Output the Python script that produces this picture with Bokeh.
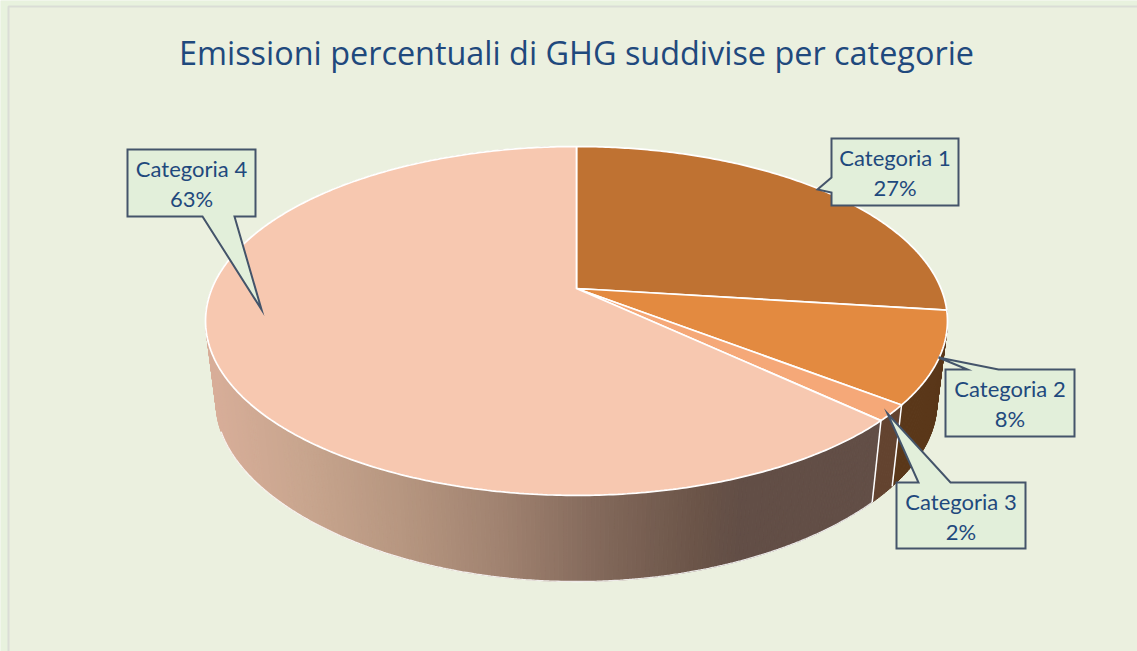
import numpy as np
from bokeh.plotting import figure
from bokeh.embed import file_html
from bokeh.resources import INLINE
from bokeh.core.properties import value
from bokeh.models import Range1d

title_text = "Emissioni percentuali di GHG suddivise per categorie"
categories = ["Categoria 1", "Categoria 2", "Categoria 3", "Categoria 4"]
shares = [27.0, 8.5, 1.5, 63.0]
labels = ["27%", "8%", "2%", "63%"]
top_colors = ["#BF7232", "#E38A40", "#F5A878", "#F7C8B0"]
side_colors = ["#6A3E1A", "#5A3719", "#63432F", None]
side_stops_x = [205, 300, 400, 500, 600, 700, 740, 880]
side_stops_c = [(216, 174, 153), (200, 165, 142), (182, 150, 128), (160, 130, 112),
                (130, 104, 90), (106, 84, 72), (98, 78, 70), (98, 78, 70)]

W, H = 1137, 651
p = figure(width=W, height=H, output_backend="svg", toolbar_location=None,
           x_range=Range1d(0, W), y_range=Range1d(H, 0),
           min_border=0, border_fill_color="#EBF0DF", background_fill_color="#EBF0DF",
           outline_line_color=None)
p.axis.visible = False
p.grid.visible = False

# outer strip and frame of the chart area
p.patch([0, 1137, 1137, 8, 8, 0], [0, 0, 6, 6, 651, 651], fill_color="#E8F2DE", line_color=None)
p.line([8, 8, 1137], [651, 6, 6], line_color="#DADDD6", line_width=2)

K = 0.186
CX = 576.0
def project(theta, plane):
    u, v = np.sin(theta), np.cos(theta)
    if plane == "top":
        w = 1 + K * v
        return CX + 364.5 * u / w, 288.0 - 168.4 * v / w
    w = 1 + K * v
    w2 = 1 + 0.25 * v
    return CX + 354.0 * u / w, 373.0 - 156.0 * v / w2

edges = np.cumsum([0.0] + shares) / 100 * 2 * np.pi

def side_color(x):
    r = [np.interp(x, side_stops_x, [c[i] for c in side_stops_c]) for i in range(3)]
    return "#%02X%02X%02X" % tuple(int(round(v)) for v in r)

for i in (1, 2, 3):
    a0, a1 = edges[i], edges[i + 1]
    n = max(int((a1 - a0) / np.radians(0.6)), 2)
    th = np.linspace(a0, a1, n + 1)
    for j in range(n):
        t = np.array([th[j], th[j + 1]])
        tx, ty = project(t, "top")
        bx, by = project(t[::-1], "bottom")
        xs = list(tx) + list(bx)
        ys = list(ty) + list(by)
        c = side_colors[i] if side_colors[i] else side_color(float(np.mean(tx)))
        p.patch(xs, ys, fill_color=c, line_color=c, line_width=1)

# white edges on the side
th = np.linspace(edges[3], np.radians(250), 300)
bx, by = project(th, "bottom")
p.line(bx, by, line_color="#FFFFFF", line_width=1.3, line_alpha=0.85)
for e in (edges[2], edges[3]):
    tx, ty = project(e, "top")
    bx, by = project(e, "bottom")
    p.line([tx, bx], [ty, by], line_color="#FFFFFF", line_width=1.5)

# top surface
for i in range(4):
    th = np.linspace(edges[i], edges[i + 1], max(int(shares[i] * 6), 12))
    x, y = project(th, "top")
    p.patch([CX] + list(x), [288.0] + list(y), fill_color=top_colors[i],
            line_color="#FFFFFF", line_width=1.75)

# callouts: pointer outline, text centre
callouts = [
    ([(831, 138), (958, 138), (958, 205), (831, 205), (831, 192), (817, 189), (831, 177)], (894.5, 172)),
    ([(945, 369), (967, 369), (938, 357), (998, 369), (1074, 369), (1074, 436), (945, 436)], (1009.5, 403)),
    ([(896, 482), (918, 482), (887, 413), (950, 482), (1025, 482), (1025, 548), (896, 548)], (960.5, 516)),
    ([(127, 149), (255, 149), (255, 216), (234, 216), (261, 309), (202, 216), (127, 216)], (191, 183)),
]
for i, (pts, (tx, ty)) in enumerate(callouts):
    xs = [q[0] for q in pts]
    ys = [q[1] for q in pts]
    p.patch(xs, ys, fill_color="#E2EFDA", line_color="#44546A", line_width=2, line_join="miter")
    p.text([tx], [ty - 15], text=[categories[i]], text_align="center", text_baseline="middle",
           text_font=value("Lato"), text_font_size="22px", text_color="#1F497D")
    p.text([tx], [ty + 15], text=[labels[i]], text_align="center", text_baseline="middle",
           text_font=value("Lato"), text_font_size="22px", text_color="#1F497D")

p.text([576], [51], text=[title_text], text_align="center", text_baseline="middle",
       text_font=value("Open Sans"), text_font_size="32.4px", text_color="#1F497D")

open("out.html", "w").write(file_html(p, INLINE))
